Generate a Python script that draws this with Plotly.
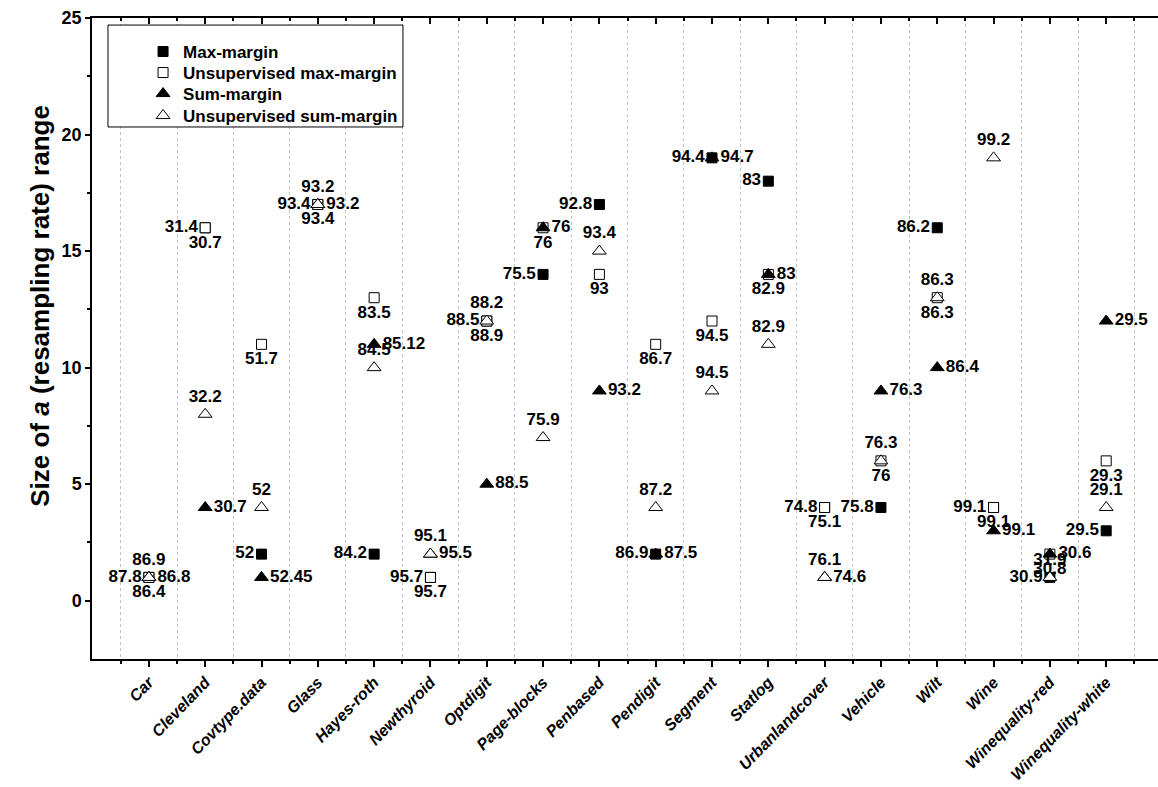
import plotly.graph_objects as go

categories = ["Car", "Cleveland", "Covtype.data", "Glass", "Hayes-roth", "Newthyroid",
              "Optdigit", "Page-blocks", "Penbased", "Pendigit", "Segment", "Statlog",
              "Urbanlandcover", "Vehicle", "Wilt", "Wine", "Winequality-red", "Winequality-white"]

# size of a range
max_margin = [1, 16, 2, 17, 2, 1, 12, 14, 17, 2, 19, 18, 4, 4, 16, 4, 1, 3]
unsup_max_margin = [1, 16, 11, 17, 13, 1, 12, 16, 14, 11, 12, 14, 4, 6, 13, 4, 2, 6]
sum_margin = [1, 4, 1, 17, 11, 2, 5, 16, 9, 2, 19, 14, 1, 9, 10, 3, 2, 12]
unsup_sum_margin = [1, 8, 4, 17, 10, 2, 12, 7, 15, 4, 9, 11, 1, 6, 13, 19, 1, 4]

# accuracy labels
max_margin_acc = ["87.8", "31.4", "52", "93.4", "84.2", "95.7", "88.5", "75.5", "92.8", "86.9",
                  "94.4", "83", "74.8", "75.8", "86.2", "99.1", "30.9", "29.5"]
unsup_max_margin_acc = ["86.4", "30.7", "51.7", "93.4", "83.5", "95.7", "88.9", "76", "93", "86.7",
                        "94.5", "82.9", "75.1", "76", "86.3", "99.1", "30.8", "29.3"]
sum_margin_acc = ["86.8", "30.7", "52.45", "93.2", "85.12", "95.5", "88.5", "76", "93.2", "87.5",
                  "94.7", "83", "74.6", "76.3", "86.4", "99.1", "30.6", "29.5"]
unsup_sum_margin_acc = ["86.9", "32.2", "52", "93.2", "84.5", "95.1", "88.2", "75.9", "93.4", "87.2",
                        "94.5", "82.9", "76.1", "76.3", "86.3", "99.2", "31.9", "29.1"]

xpos = list(range(len(categories)))
FONT = "Liberation Sans, Arial, sans-serif"
lab_font = dict(family=FONT, size=17, color="black", weight="bold")

fig = go.Figure()
series = [
    ("Max-margin", max_margin, max_margin_acc, "square", "black", 10, "middle left", "legend"),
    ("Unsupervised max-margin", unsup_max_margin, unsup_max_margin_acc, "square", "white", 10, "bottom center", "legend2"),
    ("Sum-margin", sum_margin, sum_margin_acc, "triangle-up", "black", 12, "middle right", "legend3"),
    ("Unsupervised sum-margin", unsup_sum_margin, unsup_sum_margin_acc, "triangle-up", "white", 12, "top center", "legend4"),
]
for name, ys, accs, sym, fill, size, tpos, leg in series:
    fig.add_trace(go.Scatter(
        x=xpos, y=ys, mode="markers+text", name=name, legend=leg,
        text=accs, textposition=tpos, textfont=lab_font,
        marker=dict(symbol=sym, color=fill, size=size, line=dict(color="black", width=1)),
        cliponaxis=False,
    ))

# invisible trace for top axis
fig.add_trace(go.Scatter(x=[0], y=[0], xaxis="x2", mode="markers",
                         marker=dict(opacity=0), showlegend=False, hoverinfo="skip"))

halves = [i - 0.5 for i in range(len(categories) + 1)]
tick_font = dict(family=FONT, size=18, color="black", weight="bold")
leg_font = dict(family=FONT, size=17, color="black", weight="bold")


def leg(y):
    return dict(x=0.0479, y=y, xanchor="left", yanchor="middle",
                bgcolor="rgba(0,0,0,0)", borderwidth=0, font=leg_font, itemwidth=30)


fig.update_layout(
    width=1158, height=787,
    margin=dict(l=92, r=0, t=18, b=128, autoexpand=False),
    paper_bgcolor="white", plot_bgcolor="white",
    showlegend=True,
    legend=leg(0.9470), legend2=leg(0.9142), legend3=leg(0.8814), legend4=leg(0.8471),
    shapes=[dict(type="rect", xref="paper", yref="paper", x0=0.015, x1=0.2917, y0=0.830, y1=0.989,
                 line=dict(color="black", width=1), fillcolor="white", layer="above")],
    xaxis=dict(
        range=[-1.01, 17.92], tickmode="array", tickvals=xpos, automargin=False,
        ticktext=["<b><i>%s</i></b>" % c for c in categories],
        tickangle=-46, tickfont=dict(family=FONT, size=16, color="black"),
        ticks="outside", ticklen=6, tickwidth=1.5, tickcolor="black",
        showline=True, linecolor="black", linewidth=1.5, showgrid=False, zeroline=False,
        minor=dict(tickmode="array", tickvals=halves, ticks="outside", ticklen=3,
                   tickcolor="black", showgrid=True, griddash="dot", gridcolor="#c0c0c0", gridwidth=1),
    ),
    xaxis2=dict(
        overlaying="x", side="top", matches="x", anchor="y", automargin=False,
        tickmode="array", tickvals=xpos, showticklabels=False,
        ticks="inside", ticklen=6, tickwidth=1.5, tickcolor="black",
        showline=True, linecolor="black", linewidth=1.5, showgrid=False, zeroline=False,
        minor=dict(tickmode="array", tickvals=halves, ticks="inside", ticklen=3, tickcolor="black", showgrid=False),
    ),
    yaxis=dict(
        range=[-2.5, 25], tickmode="array", tickvals=[0, 5, 10, 15, 20, 25], automargin=False,
        tickfont=tick_font, ticks="outside", ticklen=5, tickwidth=1.5, tickcolor="black",
        showline=True, linecolor="black", linewidth=1.5, showgrid=False, zeroline=False,
        minor=dict(tickmode="array", tickvals=[2.5, 7.5, 12.5, 17.5, 22.5], ticks="outside",
                   ticklen=3, tickcolor="black", showgrid=False),
    ),
    annotations=[dict(text="<b>Size of <i>a</i> (resampling rate) range</b>", textangle=-90,
                      xref="paper", yref="paper", x=-0.0488, y=0.551,
                      xanchor="center", yanchor="middle", showarrow=False,
                      font=dict(family=FONT, size=26, color="black"))],
)

fig.write_html("out.html", post_script="document.body.style.margin='0';",
               config={"displayModeBar": False})
